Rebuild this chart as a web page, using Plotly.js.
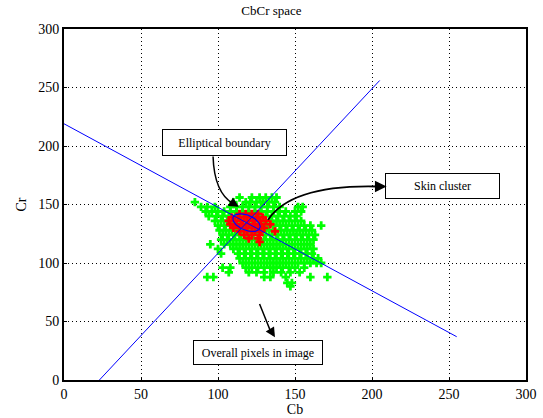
<!DOCTYPE html>
<html>
<head>
<meta charset="utf-8">
<script src="https://cdn.plot.ly/plotly-3.0.1.min.js"></script>
<style>html,body{margin:0;padding:0;background:#fff;}#chart{width:543px;height:418px;}</style>
</head>
<body>
<div id="chart"></div>
<script>
// Green: overall pixels (Cr level per row, Cb values in that row)
const greenCrRows = [156,152,148,144,140,136,132,128,124,120,116,112,108,104,100,96,92,88,83,80];
const greenCbRows = [
  [114,122,127,131,135,138],
  [85,110,118,121,125,129,133,137],
  [89,93,98,108,112,116,120,124,128,132,136,140,152,155],
  [92,96,100,104,108,112,116,120,124,128,132,136,140,144,150,154],
  [94,99,103,107,111,115,119,123,127,131,135,139,143,147,151],
  [98,102,106,110,114,118,122,126,130,134,138,142,146,150,154],
  [100,104,108,112,116,120,124,128,132,136,140,144,148,152,156,160,167],
  [101,105,109,113,117,121,125,129,133,137,141,145,149,153,157,161],
  [103,107,111,115,119,123,127,131,135,139,143,147,151,155,159,163],
  [102,106,110,114,118,122,126,130,134,138,142,146,150,154,158,162],
  [95,104,108,112,116,120,124,128,132,136,140,144,148,152,156,160],
  [100,110,114,118,122,126,130,134,138,142,146,150,154,158,162],
  [102,113,117,121,125,129,133,137,141,145,149,153,157,161],
  [114,118,122,126,130,134,138,142,146,150,154,158,162,165],
  [116,120,124,128,132,136,140,144,148,152,156,160,164,167],
  [103,108,118,122,126,130,134,138,142,146,150,156],
  [107,120,125,130,136,141,147,153],
  [93,97,130,134,144,160,171],
  [145,148],
  [147]
];
// Red: skin cluster
const redCrRows = [142,139,136,133,130,127,124,121,118];
const redCbRows = [
  [114,118,122,126],
  [109,113,117,121,125,129],
  [107,111,115,119,123,127,131],
  [108,112,116,120,124,128,134],
  [110,114,118,122,126,130],
  [114,119,124,128,137],
  [117,122,127],
  [120,126],
  [127]
];
// Blue separating lines
const line1Cb = [23, 205], line1Cr = [0, 256];
const line2Cb = [0, 255], line2Cr = [219, 37];
// Elliptical boundary parameters: centre, semi-axes, rotation (deg)
const ellCenter = [118.5, 134.5], ellAxes = [10, 6], ellAngle = -35;

const gx = [], gy = [];
greenCrRows.forEach((cr, i) => greenCbRows[i].forEach(cb => { gx.push(cb); gy.push(cr); }));
const rx = [], ry = [];
redCrRows.forEach((cr, i) => redCbRows[i].forEach(cb => { rx.push(cb); ry.push(cr); }));

const ex = [], ey = [];
const th = ellAngle * Math.PI / 180;
for (let k = 0; k <= 72; k++) {
  const t = 2 * Math.PI * k / 72;
  const u = ellAxes[0] * Math.cos(t), v = ellAxes[1] * Math.sin(t);
  ex.push(ellCenter[0] + u * Math.cos(th) - v * Math.sin(th));
  ey.push(ellCenter[1] + u * Math.sin(th) + v * Math.cos(th));
}

const font = 'Liberation Serif, Times New Roman, serif';
const traces = [
  {x: gx, y: gy, type: 'scatter', mode: 'markers', marker: {symbol: 'cross', size: 7, color: '#00ff00'}, hoverinfo: 'none'},
  {x: rx, y: ry, type: 'scatter', mode: 'markers', marker: {symbol: 'cross', size: 7, color: '#ff0000'}, hoverinfo: 'none'},
  {x: line1Cb, y: line1Cr, type: 'scatter', mode: 'lines', line: {color: '#0000ff', width: 1}},
  {x: line2Cb, y: line2Cr, type: 'scatter', mode: 'lines', line: {color: '#0000ff', width: 1}},
  {x: ex, y: ey, type: 'scatter', mode: 'lines', line: {color: '#0000ff', width: 1.2}}
];

const axisCommon = {
  range: [0, 300], dtick: 50, showgrid: true, gridcolor: '#000', griddash: '1px,3px', gridwidth: 1,
  zeroline: false, showline: true, linecolor: '#000', linewidth: 2, mirror: true,
  ticks: 'inside', ticklen: 3, tickcolor: '#000', tickfont: {family: font, size: 14, color: '#000'}
};

const boxStyle = {bgcolor: '#fff', bordercolor: '#000', borderwidth: 1, font: {family: font, size: 12, color: '#000'}, showarrow: false, xref: 'x', yref: 'y'};

const layout = {
  width: 543, height: 418,
  margin: {l: 64, r: 17, t: 29, b: 38},
  paper_bgcolor: '#fff', plot_bgcolor: '#fff',
  showlegend: false,
  title: {text: 'CbCr space', font: {family: font, size: 13, color: '#000'}, x: 0.5, xanchor: 'center', y: 0.985, yanchor: 'top'},
  xaxis: Object.assign({}, axisCommon, {title: {text: 'Cb', font: {family: font, size: 14, color: '#000'}, standoff: 2}}),
  yaxis: Object.assign({}, axisCommon, {title: {text: 'Cr', font: {family: font, size: 14, color: '#000'}, standoff: 8}}),
  shapes: [
    {type: 'path', xref: 'x', yref: 'y', path: 'M 96.8,191 Q 97.5,160 110,150.5', line: {color: '#000', width: 1.5}},
    {type: 'path', xref: 'x', yref: 'y', path: 'M 132.5,137 Q 148,167 203,165.4', line: {color: '#000', width: 1.8}},
    {type: 'path', xref: 'x', yref: 'y', path: 'M 127,65 Q 131,52 134,42', line: {color: '#000', width: 1.5}}
  ],
  annotations: [
    Object.assign({}, boxStyle, {x: 104.2, y: 202.6, text: 'Elliptical boundary', width: 117, height: 19, borderpad: 3}),
    Object.assign({}, boxStyle, {x: 246, y: 165.4, text: 'Skin cluster', width: 107, height: 18, borderpad: 3}),
    Object.assign({}, boxStyle, {x: 126, y: 23.5, text: 'Overall pixels in image', width: 122, height: 17, borderpad: 3}),
    {x: 113.5, y: 148, ax: 108.5, ay: 152, xref: 'x', yref: 'y', axref: 'x', ayref: 'y', text: ' ', showarrow: true, arrowhead: 2, arrowsize: 1.3, arrowwidth: 1.5, arrowcolor: '#000'},
    {x: 209.5, y: 165.4, ax: 201, ay: 165.4, xref: 'x', yref: 'y', axref: 'x', ayref: 'y', text: ' ', showarrow: true, arrowhead: 2, arrowsize: 1.3, arrowwidth: 1.8, arrowcolor: '#000'},
    {x: 137, y: 36.5, ax: 133.5, ay: 44, xref: 'x', yref: 'y', axref: 'x', ayref: 'y', text: ' ', showarrow: true, arrowhead: 2, arrowsize: 1.3, arrowwidth: 1.5, arrowcolor: '#000'}
  ]
};

Plotly.newPlot('chart', traces, layout, {displayModeBar: false, staticPlot: true});
</script>
</body>
</html>
